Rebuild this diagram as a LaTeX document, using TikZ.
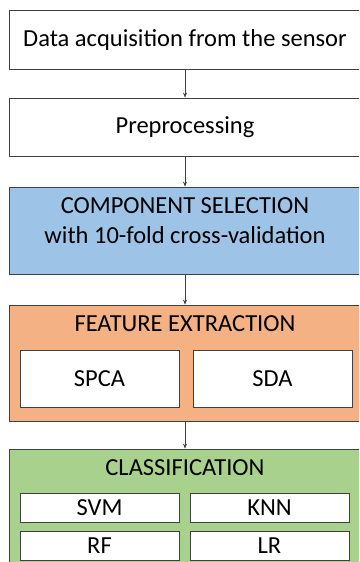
\documentclass[tikz,border=0pt]{standalone}
\usepackage{fontspec}
\setmainfont{Carlito}
\usetikzlibrary{arrows.meta}
\definecolor{selblue}{HTML}{9DC3E6}
\definecolor{featorange}{HTML}{F4B183}
\definecolor{clsgreen}{HTML}{A9D18E}
\definecolor{edgegray}{HTML}{404040}

\begin{document}
\begin{tikzpicture}[x=1pt,y=-1pt,
    box/.style={draw=edgegray, line width=0.8pt, inner sep=0pt, font=\fontsize{24.5}{30}\selectfont, align=center},
    flow/.style={draw=edgegray, line width=0.6pt, -{Stealth[length=5pt,width=4pt]}}]
       \clip (0,0) rectangle (359,562);
       \fill[white] (0,0) rectangle (359,562);

       % main steps
       \node[box, fill=white, minimum width=352pt, minimum height=59pt] (acq) at (185,39.5) {Data acquisition from the sensor};
       \node[box, fill=white, minimum width=352pt, minimum height=58pt] (prep) at (185,127) {Preprocessing};
       \node[box, fill=selblue, minimum width=352pt, minimum height=87pt] (compsel) at (185,230.5) {};
       \node[font=\fontsize{24.5}{30}\selectfont, align=center, inner sep=0pt] (compseltxt) at (185,221) {COMPONENT SELECTION\\with 10-fold cross-validation};

       % feature extraction
       \node[box, fill=featorange, minimum width=352pt, minimum height=116pt] (feat) at (185,363) {};
       \node[font=\fontsize{24.5}{30}\selectfont, inner sep=0pt] (feattxt) at (185,324) {FEATURE EXTRACTION};
       \node[box, fill=white, minimum width=159pt, minimum height=57pt] (spca) at (99.5,378.5) {SPCA};
       \node[box, fill=white, minimum width=159pt, minimum height=57pt] (sda) at (272.5,378.5) {SDA};

       % classification
       \node[box, fill=clsgreen, minimum width=352pt, minimum height=130pt] (cls) at (185,514) {};
       \node[font=\fontsize{24.5}{30}\selectfont, inner sep=0pt] (clstxt) at (185,468) {CLASSIFICATION};
       \node[box, fill=white, minimum width=159pt, minimum height=29pt] (svm) at (99.5,507.5) {SVM};
       \node[box, fill=white, minimum width=159pt, minimum height=29pt] (knn) at (269.5,507.5) {KNN};
       \node[box, fill=white, minimum width=159pt, minimum height=29pt] (rf) at (99.5,546) {RF};
       \node[box, fill=white, minimum width=159pt, minimum height=29pt] (lr) at (269.5,546) {LR};

       \draw[flow] (acq) -- (prep);
       \draw[flow] (prep) -- (compsel);
       \draw[flow] (compsel) -- (feat);
       \draw[flow] (feat) -- (cls);
\end{tikzpicture}
\end{document}
